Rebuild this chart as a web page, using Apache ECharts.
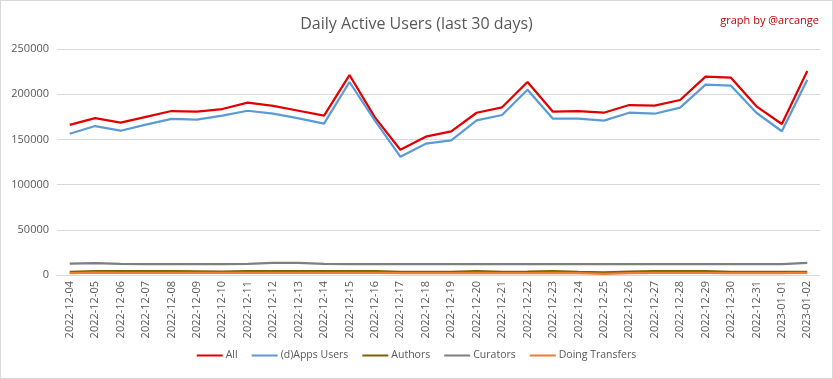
<!DOCTYPE html>
<html>
<head>
<meta charset="utf-8">
<script src="https://cdn.jsdelivr.net/npm/echarts@6/dist/echarts.min.js"></script>
<style>
html,body{margin:0;padding:0;background:#fff;}
#c{width:831px;height:377px;border:1px solid #d9d9d9;}
</style>
</head>
<body>
<div id="c"></div>
<script>
const dates = ["2022-12-04","2022-12-05","2022-12-06","2022-12-07","2022-12-08","2022-12-09","2022-12-10","2022-12-11","2022-12-12","2022-12-13","2022-12-14","2022-12-15","2022-12-16","2022-12-17","2022-12-18","2022-12-19","2022-12-20","2022-12-21","2022-12-22","2022-12-23","2022-12-24","2022-12-25","2022-12-26","2022-12-27","2022-12-28","2022-12-29","2022-12-30","2022-12-31","2023-01-01","2023-01-02"];
const allUsers = [166000,173500,168500,175000,181400,180600,183600,190600,187000,181700,176200,221200,174400,138600,153000,158900,179500,185500,213500,180600,181400,179500,188000,187300,193600,219400,218300,186600,167000,225700];
const appsUsers = [156300,164800,159600,166300,172600,171800,176200,181700,178400,173300,167400,213500,170700,130900,145200,149000,171100,177000,205000,172900,172900,170700,179500,178400,185100,210500,209400,179500,159000,216000];
const authors = [3500,4200,4300,4200,4200,4100,3600,4300,4300,4300,4200,4300,4200,3500,3400,3500,4200,3500,3600,4300,3500,2800,3600,4300,4300,4300,3500,3400,3400,3500];
const curators = [12500,13000,12200,12000,12000,12000,12000,12300,13400,13400,12200,12000,12000,12000,12000,12000,12000,12000,12000,12000,12000,12000,12000,12000,12000,12000,12000,12000,12100,13500];
const transfers = [2200,2500,2400,2400,2400,2400,2300,2400,2400,2400,2400,2400,2300,2200,2200,2200,2300,2200,2200,2300,2000,1200,2000,2300,2300,2300,2200,2200,2200,2300];
const yTicks = [0,50000,100000,150000,200000,250000];

const chart = echarts.init(document.getElementById('c'));
const textColor = '#595959';
const font = 'Open Sans';
function s(name, data, color, width){
  return {name:name, type:'line', data:data, symbol:'none', smooth:false,
    lineStyle:{color:color, width:width}, itemStyle:{color:color}};
}
chart.setOption({
  animation:false,
  textStyle:{fontFamily:font},
  title:[
    {text:'Daily Active Users (last 30 days)', left:'center', top:10,
     textStyle:{fontFamily:font, fontSize:16, fontWeight:'normal', color:textColor}},
    {text:'graph by @arcange', right:8, top:9,
     textStyle:{fontFamily:font, fontSize:11, fontWeight:'normal', color:'#c00000'}}
  ],
  legend:{bottom:12, left:'center', itemWidth:26, itemHeight:2, itemGap:14, icon:'rect',
    textStyle:{fontFamily:font, fontSize:10.5, color:textColor, padding:[0,0,0,-2]},
    data:['All','(d)Apps Users','Authors','Curators','Doing Transfers']},
  grid:{left:56, right:12, top:48, bottom:103, containLabel:false},
  xAxis:{type:'category', data:dates, boundaryGap:true,
    axisLine:{lineStyle:{color:'#d9d9d9'}}, axisTick:{show:false},
    axisLabel:{rotate:90, color:textColor, fontSize:11, fontFamily:font, interval:0, margin:6}},
  yAxis:{type:'value', min:yTicks[0], max:yTicks[yTicks.length-1], interval:50000,
    axisLine:{show:false}, axisTick:{show:false},
    splitLine:{lineStyle:{color:'#d9d9d9'}},
    axisLabel:{color:textColor, fontSize:11, fontFamily:font, margin:8,
      formatter:function(v){return String(v);}}},
  series:[
    s('All', allUsers, '#e00000', 2.25),
    s('(d)Apps Users', appsUsers, '#5b9bd5', 2.25),
    s('Authors', authors, '#7f6000', 2.25),
    s('Curators', curators, '#7f7f7f', 2.25),
    s('Doing Transfers', transfers, '#ed7d31', 2.25)
  ]
});
</script>
</body>
</html>
